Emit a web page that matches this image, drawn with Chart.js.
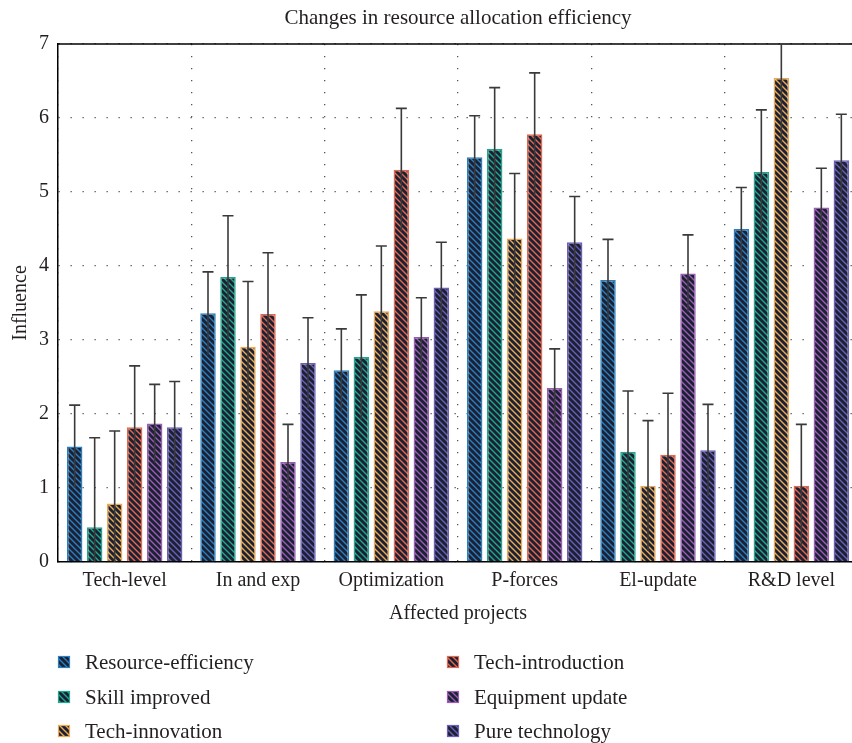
<!DOCTYPE html>
<html>
<head>
<meta charset="utf-8">
<script src="https://cdn.jsdelivr.net/npm/chart.js@4/dist/chart.umd.min.js"></script>
<style>
  html, body { margin: 0; padding: 0; background: #fff; overflow: hidden; width: 852px; height: 743px; }
  #wrap { position: relative; width: 916px; height: 743px; }
</style>
</head>
<body>
<div id="wrap"><canvas id="chart"></canvas></div>
<script>
// Categories and series
const categories = ['Tech-level', 'In and exp', 'Optimization', 'P-forces', 'El-update', 'R&D level'];
const seriesNames = ['Resource-efficiency', 'Skill improved', 'Tech-innovation', 'Tech-introduction', 'Equipment update', 'Pure technology'];

const resourceEfficiency    = [1.56, 3.36, 2.59, 5.47, 3.81, 4.50];
const resourceEfficiencyErr = [0.56, 0.56, 0.56, 0.56, 0.55, 0.56];
const skillImproved         = [0.47, 3.85, 2.77, 5.58, 1.49, 5.27];
const skillImprovedErr      = [1.21, 0.83, 0.84, 0.83, 0.82, 0.84];
const techInnovation        = [0.79, 2.91, 3.39, 4.37, 1.03, 6.54];
const techInnovationErr     = [0.98, 0.88, 0.88, 0.88, 0.88, 0.88];
const techIntroduction      = [1.82, 3.35, 5.30, 5.78, 1.45, 1.03];
const techIntroductionErr   = [0.83, 0.83, 0.83, 0.83, 0.83, 0.83];
const equipmentUpdate       = [1.87, 1.35, 3.04, 2.35, 3.90, 4.79];
const equipmentUpdateErr    = [0.53, 0.51, 0.53, 0.53, 0.52, 0.53];
const pureTechnology        = [1.82, 2.69, 3.71, 4.32, 1.51, 5.43];
const pureTechnologyErr     = [0.62, 0.61, 0.61, 0.62, 0.62, 0.62];

const yTicks = [0, 1, 2, 3, 4, 5, 6, 7];

const seriesValues = [resourceEfficiency, skillImproved, techInnovation, techIntroduction, equipmentUpdate, pureTechnology];
const seriesErrors = [resourceEfficiencyErr, skillImprovedErr, techInnovationErr, techIntroductionErr, equipmentUpdateErr, pureTechnologyErr];
const seriesColors = ['#2a7fc0', '#1fa88e', '#eaa955', '#e4674f', '#9a5cb4', '#6b5fb8'];

const FONT = "'Liberation Serif', 'Times New Roman', serif";
const INK = '#231f20';

// Dark fill with thin diagonal stripes in the series colour
function hatch(color) {
  const s = 6;
  const c = document.createElement('canvas');
  c.width = s; c.height = s;
  const g = c.getContext('2d');
  g.fillStyle = '#1b2033';
  g.fillRect(0, 0, s, s);
  g.strokeStyle = color;
  g.lineWidth = 1.4;
  g.beginPath();
  g.moveTo(-1, -1); g.lineTo(s + 1, s + 1);
  g.moveTo(-1, s - 1); g.lineTo(1, s + 1);
  g.moveTo(s - 1, -1); g.lineTo(s + 1, 1);
  g.stroke();
  return document.createElement('canvas').getContext('2d').createPattern(c, 'repeat');
}

const datasets = seriesNames.map((name, i) => ({
  label: name,
  data: seriesValues[i],
  errors: seriesErrors[i],
  backgroundColor: hatch(seriesColors[i]),
  borderColor: seriesColors[i],
  borderWidth: 1.5,
  categoryPercentage: 0.9,
  barPercentage: 0.775
}));

// Top frame line of the plot box
const frame = {
  id: 'frame',
  beforeDatasetsDraw(chart) {
    const { ctx, chartArea: a } = chart;
    ctx.save();
    ctx.strokeStyle = '#000';
    ctx.lineWidth = 1.5;
    ctx.beginPath();
    ctx.moveTo(a.left, a.top);
    ctx.lineTo(a.right, a.top);
    ctx.stroke();
    ctx.restore();
  }
};

// Error bars: symmetric whiskers, cap on the upper end
const errorBars = {
  id: 'errorBars',
  afterDatasetsDraw(chart) {
    const { ctx, chartArea: a } = chart;
    const y = chart.scales.y;
    ctx.save();
    ctx.beginPath();
    ctx.rect(a.left, a.top, a.right - a.left, a.bottom - a.top);
    ctx.clip();
    ctx.strokeStyle = '#3a3a3a';
    ctx.lineWidth = 1.6;
    chart.data.datasets.forEach((ds, di) => {
      chart.getDatasetMeta(di).data.forEach((bar, k) => {
        const v = ds.data[k], e = ds.errors[k];
        const yHi = y.getPixelForValue(v + e);
        const yLo = y.getPixelForValue(v - e);
        ctx.beginPath();
        ctx.moveTo(bar.x, yLo);
        ctx.lineTo(bar.x, yHi);
        ctx.moveTo(bar.x - 5.5, yHi);
        ctx.lineTo(bar.x + 5.5, yHi);
        ctx.stroke();
      });
    });
    ctx.restore();
  }
};

// Two-column legend under the axis title
const legendBlock = {
  id: 'legendBlock',
  afterDraw(chart) {
    const { ctx } = chart;
    const cols = [58, 447];
    const rows = [662, 697, 731];
    ctx.save();
    ctx.font = '21px ' + FONT;
    ctx.textBaseline = 'middle';
    chart.data.datasets.forEach((ds, i) => {
      const x = cols[Math.floor(i / 3)];
      const yc = rows[i % 3];
      ctx.fillStyle = ds.backgroundColor;
      ctx.fillRect(x, yc - 6, 12, 12);
      ctx.strokeStyle = ds.borderColor;
      ctx.lineWidth = 1.2;
      ctx.strokeRect(x + 0.5, yc - 5.5, 11, 11);
      ctx.fillStyle = INK;
      ctx.fillText(ds.label, x + 27, yc + 1);
    });
    ctx.restore();
  }
};

new Chart(document.getElementById('chart'), {
  type: 'bar',
  data: { labels: categories, datasets },
  plugins: [frame, errorBars, legendBlock],
  options: {
    responsive: true,
    maintainAspectRatio: false,
    animation: false,
    layout: { padding: { left: 0, right: 0, top: 0, bottom: 111 } },
    plugins: {
      legend: { display: false },
      tooltip: { enabled: false },
      title: {
        display: true,
        text: 'Changes in resource allocation efficiency',
        color: INK,
        font: { family: FONT, size: 21, weight: 'normal' },
        padding: { top: 6, bottom: 12.8 }
      }
    },
    scales: {
      x: {
        afterFit(s) { s.height = 70; },
        grid: { display: true, drawTicks: false, color: '#555', lineWidth: 1.3 },
        border: { display: true, color: '#000', width: 1.5, dash: [1.3, 10.7] },
        ticks: { color: INK, padding: 7, font: { family: FONT, size: 20 } },
        title: {
          display: true, text: 'Affected projects', color: INK,
          font: { family: FONT, size: 20 }, padding: { top: 0, bottom: 6 }
        }
      },
      y: {
        min: 0, max: 7,
        afterFit(s) { s.width = 58; },
        afterBuildTicks(s) { s.ticks = yTicks.map(v => ({ value: v })); },
        grid: { display: true, drawTicks: false, color: '#555', lineWidth: 1.3 },
        border: { display: true, color: '#000', width: 1.5, dash: [1.3, 10.7] },
        ticks: { color: INK, padding: 9, font: { family: FONT, size: 20 } },
        title: {
          display: true, text: 'Influence', color: INK,
          font: { family: FONT, size: 20 }, padding: { top: 9, bottom: 0 }
        }
      },
      // blank right-hand gutter so the plot box mirrors the left margin
      gutter: {
        type: 'linear', position: 'right', display: true,
        afterFit(s) { s.width = 58; },
        grid: { display: false, drawOnChartArea: false },
        border: { display: false },
        ticks: { display: false }
      }
    }
  }
});
</script>
</body>
</html>
